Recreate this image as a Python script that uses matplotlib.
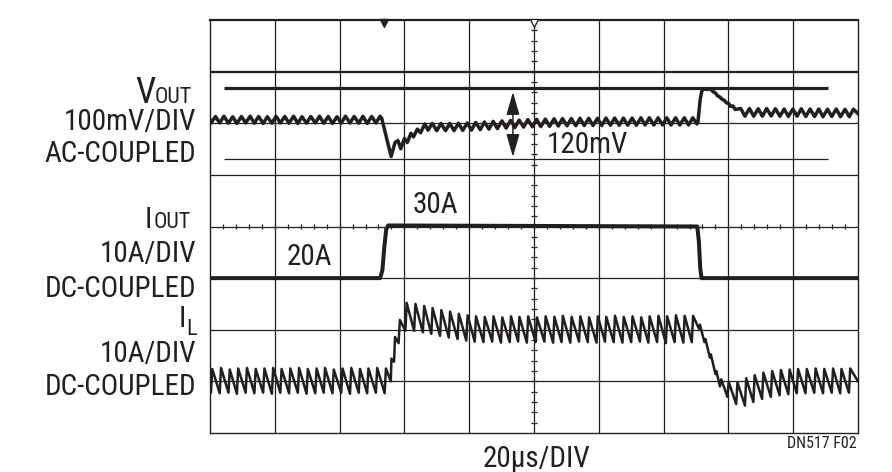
import matplotlib
matplotlib.use('Agg')
import matplotlib.pyplot as plt
from matplotlib import font_manager

# ---------------- data (time in us, VOUT in mV rel. to initial level, currents in A)
iout_trace = [(0.0, 20.0), (52.5, 20.0), (53.2, 21.5), (53.8, 26.0), (54.4, 29.5), (55.0, 30.2),
              (150.4, 30.0), (150.9, 27.0), (151.3, 22.0), (151.7, 20.0), (200.0, 20.0)]

il_before = [(0.0, 18.2), (0.3, 17.8), (0.7, 22.4), (3.0, 17.7), (3.4, 22.6), (5.7, 17.8), (6.1, 22.3),
             (8.3, 17.6), (8.7, 22.5), (11.0, 17.8), (11.4, 22.6), (13.7, 17.7), (14.1, 22.4),
             (16.4, 17.8), (16.8, 22.5), (19.1, 17.6), (19.5, 22.6), (21.7, 17.8), (22.1, 22.4),
             (24.4, 17.7), (24.8, 22.5), (27.1, 17.8), (27.5, 22.6), (29.8, 17.6), (30.2, 22.4),
             (32.5, 17.7), (32.9, 22.5), (35.1, 17.8), (35.5, 22.6), (37.8, 17.7), (38.2, 22.3),
             (40.5, 17.8), (40.9, 22.5), (43.2, 17.6), (43.6, 22.6), (45.9, 17.8), (46.3, 22.4),
             (48.5, 17.7), (48.9, 22.5), (51.2, 17.8), (51.6, 22.6), (53.9, 17.7), (54.3, 22.5)]
il_step = [(55.8, 20.0), (56.0, 24.4), (56.8, 23.8), (57.1, 28.6), (58.2, 27.4), (58.6, 31.9),
           (60.3, 29.8), (60.7, 35.2)]
il_high = [(63.0, 29.8), (63.4, 35.0), (65.7, 29.5), (66.1, 34.6), (68.3, 29.2), (68.7, 34.2),
           (71.0, 28.8), (71.4, 33.8), (73.7, 28.5), (74.1, 33.5), (76.4, 28.2), (76.8, 33.1),
           (79.1, 27.9), (79.5, 32.8), (81.7, 27.7), (82.1, 32.6), (84.4, 27.6), (84.8, 32.5),
           (87.1, 27.7), (87.5, 32.6), (89.8, 27.5), (90.2, 32.4), (92.5, 27.6), (92.9, 32.6),
           (95.1, 27.7), (95.5, 32.5), (97.8, 27.5), (98.2, 32.6), (100.5, 27.6), (100.9, 32.4),
           (103.2, 27.7), (103.6, 32.6), (105.9, 27.5), (106.3, 32.5), (108.5, 27.6), (108.9, 32.7),
           (111.2, 27.5), (111.6, 32.5), (113.9, 27.7), (114.3, 32.6), (116.6, 27.6), (117.0, 32.4),
           (119.3, 27.5), (119.7, 32.6), (121.9, 27.7), (122.3, 32.5), (124.6, 27.6), (125.0, 32.7),
           (127.3, 27.5), (127.7, 32.5), (130.0, 27.6), (130.4, 32.6), (132.7, 27.7), (133.1, 32.4),
           (135.3, 27.5), (135.7, 32.6), (138.0, 27.6), (138.4, 32.7), (140.7, 27.4), (141.1, 32.6),
           (143.4, 27.6), (143.8, 32.8), (146.1, 27.5), (146.5, 32.7), (148.7, 27.6), (149.1, 32.7)]
il_fall = [(150.9, 30.2), (151.2, 31.0), (152.6, 27.6), (152.9, 28.2), (154.3, 24.6), (154.6, 25.2),
           (156.0, 21.4), (156.3, 22.0), (157.4, 19.0)]
il_after = [(157.8, 20.4), (159.7, 17.0), (160.1, 19.9), (162.4, 15.6), (162.8, 19.8), (165.1, 15.3),
            (165.5, 20.6), (167.7, 16.0), (168.1, 21.2), (170.4, 16.6), (170.8, 21.7), (173.1, 17.0),
            (173.5, 22.0), (175.8, 17.3), (176.2, 22.2), (178.5, 17.5), (178.9, 22.3), (181.1, 17.7),
            (181.5, 22.4), (183.8, 17.7), (184.2, 22.4), (186.5, 17.8), (186.9, 22.5), (189.2, 17.7),
            (189.6, 22.4), (191.9, 17.8), (192.3, 22.5), (194.5, 17.7), (194.9, 22.4), (197.2, 17.8),
            (197.6, 22.5), (200.0, 20.0)]

vout_before = [(0.0, 0.0), (0.3, -6.5), (1.7, 6.5), (3.0, -6.0), (4.3, 7.0), (5.7, -6.5), (7.0, 6.0),
               (8.3, -7.0), (9.7, 6.5), (11.0, -6.0), (12.4, 7.0), (13.7, -6.5), (15.0, 6.5),
               (16.4, -7.0), (17.7, 6.0), (19.1, -6.5), (20.4, 7.0), (21.7, -6.0), (23.1, 6.5),
               (24.4, -6.5), (25.8, 7.0), (27.1, -7.0), (28.4, 6.0), (29.8, -6.5), (31.1, 6.5),
               (32.5, -6.0), (33.8, 7.0), (35.1, -6.5), (36.5, 6.5), (37.8, -7.0), (39.2, 6.0),
               (40.5, -6.5), (41.8, 7.0), (43.2, -6.0), (44.5, 6.5), (45.9, -6.5), (47.2, 7.0),
               (48.5, -7.0), (49.9, 6.5), (51.2, -6.0), (52.5, 7.0)]
vout_dip = [(53.0, 3.0), (55.9, -71.0), (57.1, -44.0), (58.0, -40.0), (58.9, -56.0), (60.0, -36.0),
            (60.9, -44.0), (62.0, -26.0), (62.8, -33.0), (64.0, -18.0), (65.0, -25.0), (66.3, -8.0),
            (67.3, -20.0)]
vout_mid = [(68.6, -7), (70.0, -21), (71.3, -7), (72.7, -21), (74.0, -7), (75.3, -21), (76.7, -6.5),
            (78.0, -20.5), (79.4, -6), (80.7, -20), (82.0, -5), (83.4, -19), (84.7, -4), (86.1, -18),
            (87.4, -3), (88.7, -17), (90.1, -2), (91.4, -16), (92.8, -1), (94.1, -15), (95.4, -0.5),
            (96.8, -14), (98.1, 0.5), (99.5, -13.5), (100.8, 1), (102.1, -13), (103.5, 1.5),
            (104.8, -12.5), (106.2, 2), (107.5, -12), (108.8, 2.5), (110.2, -11.5), (111.5, 2.5),
            (112.9, -11.5), (114.2, 3), (115.5, -11), (116.9, 3), (118.2, -11), (119.6, 3),
            (120.9, -11), (122.2, 3.5), (123.6, -10.5), (124.9, 3.5), (126.3, -10.5), (127.6, 3.5),
            (128.9, -10.5), (130.3, 3.5), (131.6, -10.5), (133.0, 4), (134.3, -10), (135.6, 4),
            (137.0, -10), (138.3, 4), (139.7, -10), (141.0, 4), (142.3, -10), (143.7, 4), (145.0, -10),
            (146.4, 4), (147.7, -10), (149.0, 4), (150.3, -8)]
vout_overshoot = [(150.6, -4), (151.3, 40), (151.8, 56), (152.6, 60), (153.5, 59), (154.4, 60),
                  (155.2, 55), (156.0, 52), (156.6, 47), (157.4, 44), (158.0, 40), (158.7, 38),
                  (159.4, 33), (160.0, 32), (160.7, 26), (161.4, 27), (162.1, 20)]
vout_after = [(163.8, 22), (165.1, 7), (166.5, 22), (167.8, 7), (169.2, 21.5), (170.5, 7), (171.8, 22),
              (173.2, 7.5), (174.5, 21.5), (175.9, 7), (177.2, 21), (178.5, 6.5), (179.9, 21),
              (181.2, 7), (182.5, 21.5), (183.9, 6.5), (185.2, 21), (186.6, 6.5), (187.9, 21),
              (189.2, 6), (190.6, 20.5), (191.9, 6.5), (193.3, 21), (194.6, 6), (196.0, 20.5),
              (197.3, 6), (198.6, 20.5), (200.0, 12)]

vout_ref_mv = [62.0, -75.5]        # the two horizontal reference lines
vout_ref_span_us = [4.3, 190.7]
arrow_t_us = 93.5
arrow_mv = [54.0, -72.0]
trigger_marks_us = [53.7, 100.0]

# screen mapping (divisions): 20us/div, 100mV/div, 10A/div
VOUT_OFFSET_DIV = 6.066
IOUT_OFFSET_DIV = 1.0
IL_OFFSET_DIV = -1.0


def vdiv(mv):
    return VOUT_OFFSET_DIV + mv / 100.0


# ---------------- fonts
avail = {f.name for f in font_manager.fontManager.ttflist}
fam = [f for f in ['Liberation Sans Narrow', 'Roboto Condensed', 'Liberation Sans', 'DejaVu Sans'] if f in avail]
plt.rcParams['font.family'] = fam

INK = '#231f20'
W, H = 892, 472
fig = plt.figure(figsize=(W / 100, H / 100), dpi=100)
ax = fig.add_axes([210 / W, 1 - 433 / H, 648 / W, 413 / H])
ax.set_xlim(0, 200)
ax.set_ylim(0, 8)
ax.set_xticks([])
ax.set_yticks([])
for s in ax.spines.values():
    s.set_color(INK)
    s.set_linewidth(1.0)
ax.spines['top'].set_linewidth(1.6)

# graticule
for i in range(1, 10):
    ax.axvline(i * 20, color=INK, lw=0.9, zorder=1)
for j in range(1, 8):
    ax.axhline(j, color=INK, lw=1.6 if j == 7 else 0.9, zorder=1)
# centre-line minor ticks
xt = [k * 4 for k in range(1, 50)]
ax.vlines(xt, 4 - 0.05, 4 + 0.05, color=INK, lw=0.9, zorder=1)
yt = [k * 0.2 for k in range(1, 40)]
ax.hlines(yt, 100 - 0.8, 100 + 0.8, color=INK, lw=0.9, zorder=1)

# reference lines
ax.plot(vout_ref_span_us, [vdiv(vout_ref_mv[0])] * 2, color=INK, lw=2.3, solid_capstyle='butt', zorder=2)
ax.plot(vout_ref_span_us, [vdiv(vout_ref_mv[1])] * 2, color=INK, lw=0.9, solid_capstyle='butt', zorder=2)


# traces
def unzip(pts):
    return [p[0] for p in pts], [p[1] for p in pts]


t, a = unzip(iout_trace)
ax.plot(t, [IOUT_OFFSET_DIV + v / 10 for v in a], color=INK, lw=2.9, zorder=3)
t, a = unzip(il_before + il_step + il_high + il_fall + il_after)
ax.plot(t, [IL_OFFSET_DIV + v / 10 for v in a], color=INK, lw=1.8, zorder=3)
t, a = unzip(vout_before + vout_dip + vout_mid + vout_overshoot + vout_after)
ax.plot(t, [vdiv(v) for v in a], color=INK, lw=2.5, zorder=3)

# arrow
ax.annotate('', xy=(arrow_t_us, vdiv(arrow_mv[0])), xytext=(arrow_t_us, vdiv(arrow_mv[1])),
            arrowprops=dict(arrowstyle='<|-|>,head_length=1.4,head_width=0.4', lw=1.1, color=INK,
                            shrinkA=0, shrinkB=0, mutation_scale=10), zorder=4)

# trigger marks
ax.plot(trigger_marks_us[0], 7.95, marker='v', ms=6, color=INK, clip_on=False, zorder=5)
ax.plot(trigger_marks_us[1], 7.95, marker='v', ms=5.5, mfc='white', mec=INK, mew=0.9, clip_on=False, zorder=5)


def ptxt(x, y, s, size=21, ha='right', **kw):
    fig.text(x / W, 1 - y / H, s, fontsize=size, ha=ha, va='baseline', color=INK, **kw)


ptxt(155, 103, 'V', size=26)
ptxt(155, 103, 'OUT', size=16, ha='left')
ptxt(152, 228, 'I')
ptxt(154, 228, 'OUT', size=16, ha='left')
ptxt(196, 130, '100mV/DIV')
ptxt(196, 162, 'AC-COUPLED')
ptxt(196, 262, '10A/DIV')
ptxt(196, 297, 'DC-COUPLED')
ptxt(186, 327, 'I')
ptxt(186, 335, 'L', size=16, ha='left')
ptxt(196, 362, '10A/DIV')
ptxt(196, 395, 'DC-COUPLED')
ptxt(547, 153, '120mV', ha='left')
ptxt(413, 213, '30A', ha='left')
ptxt(287, 265, '20A', ha='left')
ptxt(536, 467, '20µs/DIV', ha='center')
ptxt(857, 448, 'DN517 F02', size=11.5)

fig.savefig('out.png', dpi=100, facecolor='white')
